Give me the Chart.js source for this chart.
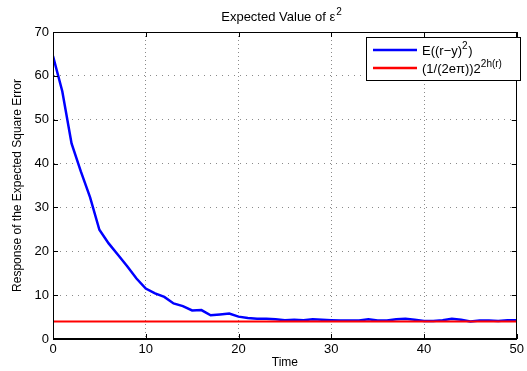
<!DOCTYPE html>
<html>
<head>
<meta charset="utf-8">
<script src="https://cdn.jsdelivr.net/npm/chart.js@4.4.1/dist/chart.umd.min.js"></script>
<style>
  html, body { margin: 0; padding: 0; background: #fff; }
  #wrap { width: 527px; height: 371px; }
</style>
</head>
<body>
<div id="wrap"><canvas id="errorChart" width="527" height="371"></canvas></div>
<script>
// values
const times = [0, 1, 2, 3, 4, 5, 6, 7, 8, 9, 10, 11, 12, 13, 14, 15, 16, 17, 18, 19, 20,
    21, 22, 23, 24, 25, 26, 27, 28, 29, 30, 31, 32, 33, 34, 35, 36, 37, 38, 39, 40,
    41, 42, 43, 44, 45, 46, 47, 48, 49, 50];
const expectedError = [64.5, 56.5, 44.6, 38.2, 32.3, 24.9, 21.8, 19.2, 16.6, 13.8, 11.5,
    10.4, 9.6, 8.1, 7.5, 6.5, 6.6, 5.4, 5.6, 5.8, 5.1,
    4.8, 4.6, 4.6, 4.5, 4.3, 4.4, 4.3, 4.5, 4.4, 4.3,
    4.2, 4.2, 4.2, 4.5, 4.2, 4.2, 4.5, 4.6, 4.4, 4.1,
    4.1, 4.3, 4.6, 4.4, 4.0, 4.2, 4.2, 4.1, 4.3, 4.3];
const boundTimes = [0, 50];
const boundValues = [4.0, 4.0];
const xTicks = [0, 10, 20, 30, 40, 50];
const yTicks = [0, 10, 20, 30, 40, 50, 60, 70];

const FONT = '"Liberation Sans", Arial, Helvetica, sans-serif';

// MATLAB style box, inward ticks, title and legend with superscripts
const matlabLook = {
    id: 'matlabLook',
    afterDraw(chart) {
        const ctx = chart.ctx;
        const area = chart.chartArea;
        const xs = chart.scales.x;
        const ys = chart.scales.y;
        ctx.save();
        ctx.strokeStyle = '#000';
        ctx.lineWidth = 1;
        ctx.strokeRect(Math.round(area.left) + 0.5, Math.round(area.top) + 0.5,
            Math.round(area.right - area.left) - 1, Math.round(area.bottom - area.top) - 1);

        ctx.beginPath();
        xTicks.forEach(v => {
            const px = Math.round(xs.getPixelForValue(v)) + 0.5;
            ctx.moveTo(px, area.bottom); ctx.lineTo(px, area.bottom - 5);
            ctx.moveTo(px, area.top); ctx.lineTo(px, area.top + 5);
        });
        yTicks.forEach(v => {
            const py = Math.round(ys.getPixelForValue(v)) + 0.5;
            ctx.moveTo(area.left, py); ctx.lineTo(area.left + 5, py);
            ctx.moveTo(area.right, py); ctx.lineTo(area.right - 5, py);
        });
        ctx.stroke();

        // title
        ctx.fillStyle = '#000';
        ctx.textBaseline = 'alphabetic';
        ctx.textAlign = 'left';
        ctx.font = '13px ' + FONT;
        const tMain = 'Expected Value of \u03b5';
        const wMain = ctx.measureText(tMain).width;
        ctx.font = '10px ' + FONT;
        const wSup = ctx.measureText('2').width;
        let tx = 281 - (wMain + wSup) / 2;
        ctx.font = '13px ' + FONT;
        ctx.fillText(tMain, tx, 21);
        ctx.font = '10px ' + FONT;
        ctx.fillText('2', tx + wMain + 1, 15);

        // legend
        const bx = 366, by = 37, bw = 154, bh = 43;
        ctx.fillStyle = '#fff';
        ctx.fillRect(bx, by, bw, bh);
        ctx.strokeStyle = '#000';
        ctx.strokeRect(bx + 0.5, by + 0.5, bw, bh);

        const rows = [
            { color: '#0000ff', y: 50, parts: [['E((r\u2212y)', 0], ['2', 1], [')', 0]] },
            { color: '#ff0000', y: 68, parts: [['(1/(2e\u03c0))2', 0], ['2h(r)', 1]] }
        ];
        rows.forEach(r => {
            ctx.strokeStyle = r.color;
            ctx.lineWidth = 2.5;
            ctx.beginPath();
            ctx.moveTo(373, r.y); ctx.lineTo(417, r.y);
            ctx.stroke();
            let x = 422;
            ctx.fillStyle = '#000';
            r.parts.forEach(p => {
                ctx.font = (p[1] ? '10px ' : '13px ') + FONT;
                ctx.fillText(p[0], x, p[1] ? r.y - 1 : r.y + 5);
                x += ctx.measureText(p[0]).width + (p[1] ? 0.5 : 0);
            });
        });
        ctx.restore();
    }
};

const ctx = document.getElementById('errorChart').getContext('2d');

new Chart(ctx, {
    type: 'line',
    data: {
        datasets: [{
            label: 'E((r-y)^2)',
            data: times.map((t, i) => ({ x: t, y: expectedError[i] })),
            borderColor: '#0000ff',
            borderWidth: 2.5,
            pointRadius: 0,
            tension: 0,
            order: 1
        }, {
            label: '(1/(2e\u03c0))2^2h(r)',
            data: boundTimes.map((t, i) => ({ x: t, y: boundValues[i] })),
            borderColor: '#ff0000',
            borderWidth: 2,
            pointRadius: 0,
            order: 0
        }]
    },
    options: {
        responsive: false,
        devicePixelRatio: 1,
        animation: false,
        layout: { padding: { left: 0, right: 5, top: 32, bottom: 0 } },
        plugins: {
            legend: { display: false },
            title: { display: false },
            tooltip: { enabled: false }
        },
        scales: {
            x: {
                type: 'linear',
                min: 0,
                max: 50,
                afterBuildTicks: s => { s.ticks = xTicks.map(v => ({ value: v })); },
                afterFit: s => { s.height = 32; },
                ticks: { color: '#000', font: { size: 13, family: FONT }, padding: 3, maxRotation: 0 },
                grid: { color: '#8a8a8a', drawTicks: false },
                border: { color: '#000', width: 1, dash: [1, 3] },
                title: {
                    display: true, text: 'Time', color: '#000',
                    font: { size: 12, family: FONT }, padding: { top: 0, bottom: 1 }
                }
            },
            y: {
                min: 0,
                max: 70,
                afterBuildTicks: s => { s.ticks = yTicks.map(v => ({ value: v })); },
                afterFit: s => { s.width = 53; },
                ticks: { color: '#000', font: { size: 13, family: FONT }, padding: 4 },
                grid: { color: '#8a8a8a', drawTicks: false },
                border: { color: '#000', width: 1, dash: [1, 5] },
                title: {
                    display: true, text: 'Response of the Expected Square Error', color: '#000',
                    font: { size: 12, family: FONT }, padding: { top: 10, bottom: 0 }
                }
            }
        }
    },
    plugins: [matlabLook]
});
</script>
</body>
</html>
